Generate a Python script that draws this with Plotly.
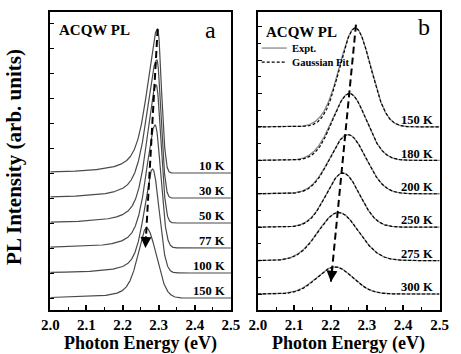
import numpy as np
import plotly.graph_objects as go

# ---------------- data ----------------
# Panel a: PL spectra at low temperature (stacked, arbitrary units)
temps_a = ["10 K", "30 K", "50 K", "77 K", "100 K", "150 K"]
offset_a = [5, 4, 3, 2, 1, 0]
peak_a = [2.297, 2.295, 2.293, 2.290, 2.283, 2.266]       # eV
height_a = [5.76, 5.52, 5.52, 4.92, 4.16, 2.80]
hwhm_low_a = [0.034, 0.034, 0.031, 0.030, 0.028, 0.029]   # low-energy side
hwhm_high_a = [0.012, 0.013, 0.015, 0.018, 0.021, 0.032]  # high-energy side
shoulder_a = [0.12, 0.10, 0.06, 0.0, 0.0, 0.0]             # weak shoulder near 2.316 eV

# Panel b: PL spectra at higher temperature with Gaussian fits
temps_b = ["150 K", "180 K", "200 K", "250 K", "275 K", "300 K"]
offset_b = [5, 4, 3, 2, 1, 0]
peak_b = [2.268, 2.252, 2.248, 2.234, 2.222, 2.212]
height_b = [2.96, 2.00, 1.77, 1.62, 1.44, 0.81]
hwhm_b = [0.050, 0.054, 0.058, 0.054, 0.065, 0.058]
tail_b = [0.09, 0.07, 0.03, 0.02, 0.02, 0.02]             # low-energy excess of the measured spectra

x_ticks = [2.0, 2.1, 2.2, 2.3, 2.4, 2.5]

# ---------------- line shapes ----------------
energy = np.linspace(2.0, 2.5, 1201)
LN2 = np.log(2.0)


def asym_peak(e, e0, h, wl, wr, eta=0.6):
    w = np.where(e < e0, wl, wr)
    d = (e - e0) / w
    lor = 1.0 / (1.0 + d ** 2)
    gau = np.exp(-LN2 * d ** 2)
    mix = np.where(e < e0, eta * lor + (1 - eta) * gau, gau)
    return h * mix


def gauss(e, e0, h, w):
    return h * np.exp(-LN2 * ((e - e0) / w) ** 2)


FONT = "Liberation Serif"
fig = go.Figure()

# ---- panel a curves
for i in range(len(temps_a)):
    y = offset_a[i] + asym_peak(energy, peak_a[i], height_a[i], hwhm_low_a[i], hwhm_high_a[i])
    y = y + gauss(energy, 2.316, shoulder_a[i], 0.005)
    fig.add_trace(go.Scatter(x=energy, y=y, mode="lines",
                             line=dict(color="#4a4a4a", width=1.2),
                             xaxis="x", yaxis="y", hoverinfo="skip"))

# ---- panel b: measured (grey) and Gaussian fit (black dashed)
for i in range(len(temps_b)):
    fit = offset_b[i] + gauss(energy, peak_b[i], height_b[i], hwhm_b[i])
    expt = fit + gauss(energy, peak_b[i] - 0.08, tail_b[i], 0.04)
    fig.add_trace(go.Scatter(x=energy, y=expt, mode="lines",
                             line=dict(color="#8a8a8a", width=1.3),
                             xaxis="x2", yaxis="y2", hoverinfo="skip"))
    fig.add_trace(go.Scatter(x=energy, y=fit, mode="lines",
                             line=dict(color="black", width=1.2, dash="3px,2px"),
                             xaxis="x2", yaxis="y2", hoverinfo="skip"))

# ---- dashed arrows following the peak shift
def shift_arrow(xs, ys, xa, ya, x_end_shift, y_end_drop):
    x0, y0 = xs[0], ys[0]
    x1, y1 = xs[-1] + x_end_shift, ys[-1] - y_end_drop
    fig.add_trace(go.Scatter(x=[x0, x1], y=[y0, y1], mode="lines",
                             line=dict(color="black", width=2, dash="7px,4px"),
                             xaxis=xa, yaxis=ya, hoverinfo="skip"))
    fig.add_annotation(x=x1, y=y1, ax=x1 - (x1 - x0) * 0.06, ay=y1 - (y1 - y0) * 0.06,
                       xref=xa, yref=ya, axref=xa, ayref=ya, text="", showarrow=True,
                       arrowhead=2, arrowsize=1.1, arrowwidth=2, arrowcolor="black", standoff=0)


tops_a = [o + h for o, h in zip(offset_a, height_a)]
tops_b = [o + h for o, h in zip(offset_b, height_b)]
shift_arrow(peak_a, tops_a, "x", "y", -0.003, 0.8)
shift_arrow([p + 0.002 for p in peak_b], [t + 0.1 for t in tops_b], "x2", "y2", -0.013, 0.54)

# ---------------- axes ----------------
W, H = 461, 354
common_x = dict(range=[2.0, 2.5], tickvals=x_ticks, ticktext=[f"{v:.1f}" for v in x_ticks],
                ticks="inside", ticklen=5, tickwidth=1.5, tickcolor="black",
                minor=dict(dtick=0.05, tick0=2.0, ticks="inside", ticklen=3, tickwidth=1.2,
                           tickcolor="black", showgrid=False),
                showline=True, mirror=True, linewidth=2, linecolor="black",
                showgrid=False, zeroline=False, ticklabelstandoff=0,
                tickfont=dict(family=FONT, size=15, color="black", weight="bold"))
common_y = dict(ticks="inside", ticklen=4, tickwidth=1.3, tickcolor="black",
                showticklabels=False, showline=True, mirror=True, linewidth=2,
                linecolor="black", showgrid=False, zeroline=False, dtick=1, tick0=0)

fig.update_layout(
    width=W, height=H, margin=dict(l=0, r=0, t=12, b=44),
    paper_bgcolor="white", plot_bgcolor="white", showlegend=False,
    xaxis=dict(domain=[43 / W, 231 / W], anchor="y", **common_x),
    yaxis=dict(domain=[0, 1], anchor="x", range=[-0.48, 11.44], **common_y),
    xaxis2=dict(domain=[259 / W, 448 / W], anchor="y2", **common_x),
    yaxis2=dict(domain=[0, 1], anchor="x2", range=[-0.479, 8.44],
                minor=dict(dtick=0.5, tick0=0, ticks="inside", ticklen=3, tickwidth=1.2,
                           tickcolor="black", showgrid=False),
                **common_y),
)

# ---------------- text ----------------
def txt(text, x, y, xref, yref, size, bold=True, xanchor="center", yanchor="middle", angle=0):
    fig.add_annotation(text=text, x=x, y=y, xref=xref, yref=yref, showarrow=False,
                       xanchor=xanchor, yanchor=yanchor, textangle=angle,
                       font=dict(family=FONT, size=size, color="black",
                                 weight="bold" if bold else "normal"))


for i, t in enumerate(temps_a):
    txt(t, 2.49, offset_a[i] + 0.3, "x", "y", 12.5, xanchor="right")
for i, t in enumerate(temps_b):
    txt(t, 2.487, offset_b[i] + 0.2, "x2", "y2", 12.5, xanchor="right")

txt("ACQW PL", 0.037, 0.94, "x domain", "y domain", 15, xanchor="left")
txt("ACQW PL", 0.032, 0.933, "x2 domain", "y2 domain", 15, xanchor="left")
txt("a", 0.888, 0.94, "x domain", "y domain", 24, bold=False)
txt("b", 0.915, 0.95, "x2 domain", "y2 domain", 24, bold=False)

# legend of panel b
fig.add_shape(type="line", xref="x2 domain", yref="y2 domain", x0=0.021, x1=0.159,
              y0=0.879, y1=0.879, line=dict(color="#8a8a8a", width=1.3))
fig.add_shape(type="line", xref="x2 domain", yref="y2 domain", x0=0.021, x1=0.159,
              y0=0.832, y1=0.832, line=dict(color="black", width=1.2, dash="3px,2px"))
txt("Expt.", 0.175, 0.879, "x2 domain", "y2 domain", 10.5, xanchor="left")
txt("Gaussian Fit", 0.175, 0.832, "x2 domain", "y2 domain", 10.5, xanchor="left")

# axis titles
txt("Photon Energy (eV)", (43 + 231) / 2 / W, -0.114, "paper", "paper", 18)
txt("Photon Energy (eV)", (259 + 448) / 2 / W, -0.114, "paper", "paper", 18)
txt("PL Intensity (arb. units)", 5 / W, 0.513, "paper", "paper", 21, angle=-90)

fig.write_html("out.html")
